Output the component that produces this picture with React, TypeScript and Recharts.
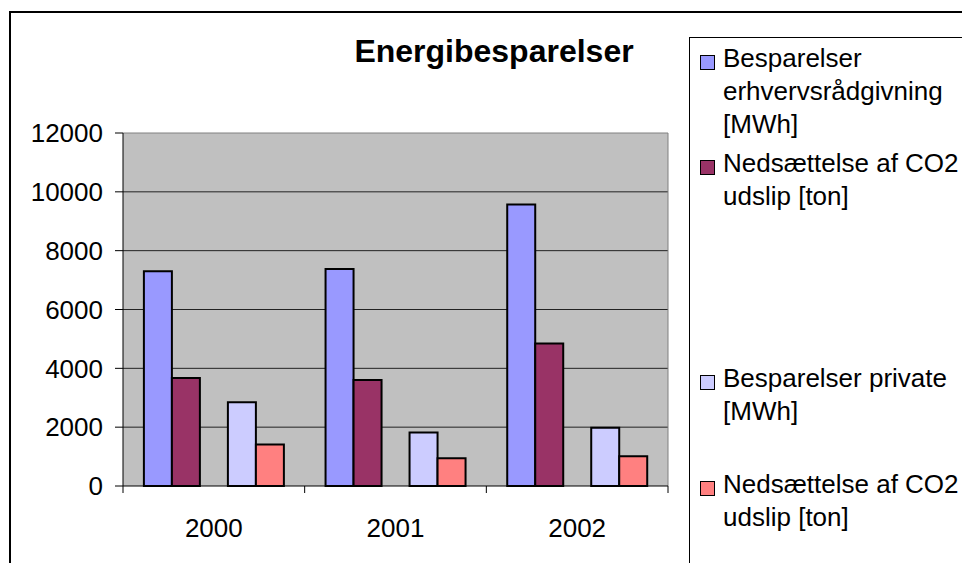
import * as React from "react";
import { BarChart, Bar, XAxis, YAxis, CartesianGrid } from "recharts";

// values
const years = ["2000", "2001", "2002"];
const erhvervMWh = [7300, 7380, 9570];
const erhvervCO2 = [3670, 3600, 4840];
const privateMWh = [2850, 1820, 1980];
const privateCO2 = [1410, 940, 1010];
const yTicks = [0, 2000, 4000, 6000, 8000, 10000, 12000];

const seriesColors = ["#9999FF", "#993366", "#CCCCFF", "#FF8080"];
const legendLines = [
  ["Besparelser", "erhvervsrådgivning", "[MWh]"],
  ["Nedsættelse af CO2", "udslip [ton]"],
  ["Besparelser private", "[MWh]"],
  ["Nedsættelse af CO2", "udslip [ton]"],
];

const FONT = "'Liberation Sans', Arial, sans-serif";
const CHART_W = 680;
const CHART_H = 563;
const MARGIN = { top: 133, right: 12, left: 0, bottom: 0 };
const Y_AXIS_W = 123;
const X_AXIS_H = 77;
const PLOT_LEFT = MARGIN.left + Y_AXIS_W;
const PLOT_RIGHT = CHART_W - MARGIN.right;
const BAND = (PLOT_RIGHT - PLOT_LEFT) / years.length;

const chartData = years.map((year, i) => ({
  year,
  erhvervMWh: erhvervMWh[i],
  erhvervCO2: erhvervCO2[i],
  privateMWh: privateMWh[i],
  privateCO2: privateCO2[i],
}));

// category labels with tick marks on the band edges, like Excel
function YearTick(props: any) {
  const { x, y, payload, index } = props;
  const left = x - BAND / 2;
  const right = x + BAND / 2;
  return (
    <g>
      <line x1={left} y1={y} x2={left} y2={y + 7} stroke="#000" strokeWidth={1} />
      {index === years.length - 1 && (
        <line x1={right} y1={y} x2={right} y2={y + 7} stroke="#000" strokeWidth={1} />
      )}
      <text x={x} y={y + 51} textAnchor="middle" fontSize={26} fontFamily={FONT} fill="#000">
        {payload.value}
      </text>
    </g>
  );
}

const legendTops = [41, 146, 361, 467];

function ChartLegend() {
  return (
    <div
      style={{
        position: "absolute",
        left: 689,
        top: 37,
        width: 400,
        height: 600,
        borderLeft: "1.5px solid #000",
        borderTop: "1.5px solid #000",
        fontFamily: FONT,
        fontSize: 26,
        lineHeight: "33px",
        color: "#000",
      }}
    >
      {legendLines.map((lines, i) => (
        <div key={i} style={{ position: "absolute", left: 0, top: legendTops[i] - 37 }}>
          <div
            style={{
              position: "absolute",
              left: 10,
              top: 13,
              width: 13,
              height: 13,
              background: seriesColors[i],
              border: "1px solid #000",
            }}
          />
          <div style={{ position: "absolute", left: 33, top: 0, whiteSpace: "nowrap" }}>
            {lines.map((l, j) => (
              <div key={j}>{l}</div>
            ))}
          </div>
        </div>
      ))}
    </div>
  );
}

export default function App() {
  return (
    <div
      style={{
        position: "absolute",
        left: 0,
        top: 0,
        width: 962,
        height: 563,
        overflow: "hidden",
        background: "#fff",
      }}
    >
      <div
        style={{
          position: "absolute",
          left: 9,
          top: 11,
          width: 1000,
          height: 600,
          border: "2px solid #000",
        }}
      />
      <div
        style={{
          position: "absolute",
          left: 494,
          top: 33,
          transform: "translateX(-50%)",
          fontFamily: FONT,
          fontWeight: "bold",
          fontSize: 32,
          whiteSpace: "nowrap",
        }}
      >
        Energibesparelser
      </div>
      <div style={{ position: "absolute", left: 0, top: 0 }}>
        <BarChart
          width={CHART_W}
          height={CHART_H}
          data={chartData}
          margin={MARGIN}
          barGap={0}
          barCategoryGap="11.5%"
        >
          <CartesianGrid
            vertical={false}
            horizontalValues={[2000, 4000, 6000, 8000, 10000]}
            stroke="#222"
            fill="#C0C0C0"
            fillOpacity={1}
          />
          <CartesianGrid
            horizontalValues={[12000]}
            verticalPoints={[PLOT_RIGHT]}
            stroke="#808080"
          />
          <XAxis
            dataKey="year"
            height={X_AXIS_H}
            axisLine={{ stroke: "#000" }}
            tickLine={false}
            tickSize={0}
            tickMargin={0}
            tick={<YearTick />}
            interval={0}
          />
          <YAxis
            width={Y_AXIS_W}
            domain={[0, 12000]}
            ticks={yTicks}
            interval={0}
            axisLine={{ stroke: "#000" }}
            tickLine={{ stroke: "#000" }}
            tickSize={8}
            tickMargin={12}
            tick={{ fontSize: 26, fontFamily: FONT, fill: "#000" }}
          />
          <Bar dataKey="erhvervMWh" fill={seriesColors[0]} stroke="#000" strokeWidth={2} isAnimationActive={false} />
          <Bar dataKey="erhvervCO2" fill={seriesColors[1]} stroke="#000" strokeWidth={2} isAnimationActive={false} />
          {/* empty series in the source workbook, keeps the gap */}
          <Bar dataKey="blank" fill="none" isAnimationActive={false} />
          <Bar dataKey="privateMWh" fill={seriesColors[2]} stroke="#000" strokeWidth={2} isAnimationActive={false} />
          <Bar dataKey="privateCO2" fill={seriesColors[3]} stroke="#000" strokeWidth={2} isAnimationActive={false} />
        </BarChart>
      </div>
      <ChartLegend />
    </div>
  );
}
